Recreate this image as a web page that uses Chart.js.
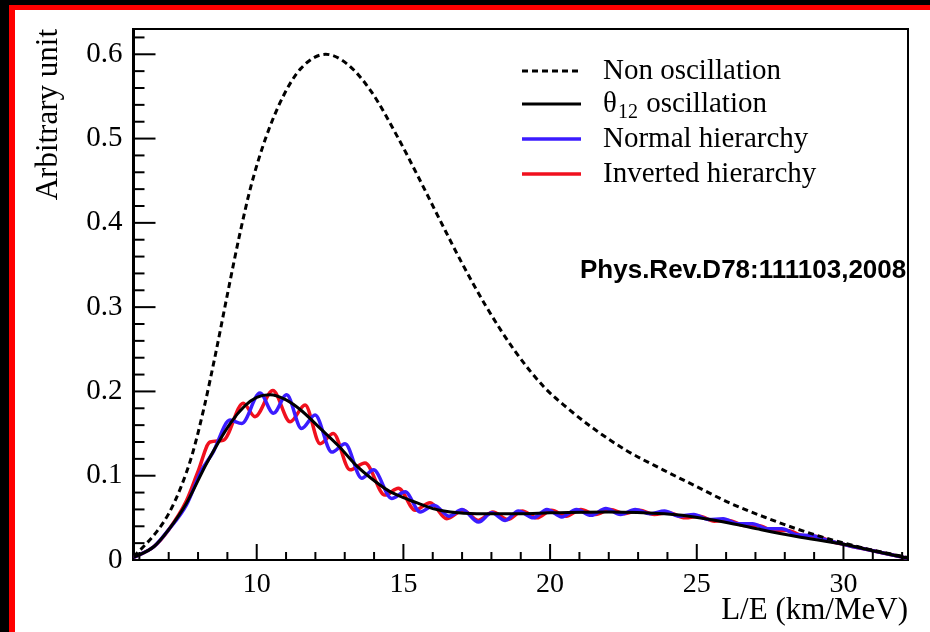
<!DOCTYPE html>
<html><head><meta charset="utf-8">
<script src="https://cdn.jsdelivr.net/npm/chart.js@4.4.1/dist/chart.umd.min.js"></script>
<style>
html,body{margin:0;padding:0;background:#000;width:930px;height:632px;overflow:hidden}
#frame{position:absolute;left:9px;top:5px;right:0;bottom:0;box-sizing:border-box;background:#fff;border:0 solid #ff0000;border-left-width:6px;border-top-width:5px}
#c{position:absolute;left:0;top:0}
</style></head><body>
<div id="frame"></div>
<canvas id="c" width="930" height="632"></canvas>
<script>
// ---- data ----
const xRange = [5.8, 32.2];
const yRange = [0, 0.63];
const xTickLabels = [10, 15, 20, 25, 30];

const nonOscX = [5.8, 6.2, 6.6, 7.0, 7.4, 7.8, 8.2, 8.6, 9.0, 9.4, 9.8, 10.3, 10.9, 11.5, 12.35, 13.1, 13.9, 14.8, 15.5, 16.25, 17.0, 17.8, 18.8, 19.8, 20.6, 21.4, 22.6, 23.85, 25.0, 26.1, 27.3, 28.4, 29.5, 30.7, 31.5, 32.2];
const nonOscY = [0.004, 0.018, 0.034, 0.055, 0.085, 0.125, 0.18, 0.245, 0.315, 0.383, 0.443, 0.5, 0.55, 0.583, 0.6, 0.588, 0.556, 0.502, 0.455, 0.403, 0.352, 0.302, 0.248, 0.205, 0.18, 0.158, 0.13, 0.107, 0.087, 0.068, 0.051, 0.037, 0.025, 0.014, 0.008, 0.003];

const th12X = [5.8, 6.5, 7.0, 7.6, 8.3, 9.1, 9.6, 10.0, 10.45, 11.0, 11.5, 12.2, 12.8, 13.4, 13.9, 14.5, 15.0, 15.6, 16.0, 16.6, 17.5, 19.0, 20.0, 22.0, 23.9, 24.5, 26.1, 27.2, 28.4, 30.1, 31.0, 32.2];
const th12Y = [0.003, 0.016, 0.036, 0.067, 0.115, 0.162, 0.183, 0.193, 0.196, 0.19, 0.178, 0.155, 0.135, 0.112, 0.097, 0.082, 0.074, 0.066, 0.061, 0.057, 0.055, 0.055, 0.056, 0.057, 0.055, 0.053, 0.044, 0.036, 0.028, 0.018, 0.011, 0.002];

const normalX = [5.8, 6.5, 7.0, 7.6, 8.1, 8.5, 9.09, 9.49, 10.11, 10.57, 11.02, 11.53, 11.99, 12.56, 13.01, 13.58, 13.98, 14.6, 15.06, 15.57, 16.05, 16.55, 17.0, 17.56, 18.01, 18.47, 18.92, 19.43, 19.89, 20.4, 20.9, 21.4, 21.9, 22.4, 22.9, 23.4, 23.9, 24.4, 24.9, 25.4, 25.9, 26.4, 26.9, 27.4, 27.9, 28.4, 28.9, 29.5, 30.2, 31.0, 32.2];
const normalY = [0.003, 0.016, 0.036, 0.065, 0.105, 0.127, 0.166, 0.162, 0.198, 0.174, 0.196, 0.156, 0.172, 0.128, 0.138, 0.097, 0.107, 0.073, 0.081, 0.057, 0.065, 0.052, 0.060, 0.045, 0.056, 0.047, 0.058, 0.050, 0.060, 0.051, 0.060, 0.053, 0.061, 0.054, 0.060, 0.055, 0.058, 0.052, 0.054, 0.048, 0.049, 0.043, 0.043, 0.037, 0.037, 0.030, 0.029, 0.023, 0.017, 0.011, 0.002];

const invertedX = [5.8, 6.5, 7.0, 7.6, 8.0, 8.41, 8.86, 9.54, 9.94, 10.55, 11.14, 11.65, 12.16, 12.61, 13.18, 13.69, 14.37, 14.83, 15.4, 15.91, 16.48, 17.04, 17.55, 18.05, 18.55, 19.05, 19.55, 20.05, 20.55, 21.05, 21.55, 22.05, 22.55, 23.05, 23.55, 24.05, 24.6, 25.1, 25.6, 26.1, 26.6, 27.1, 27.6, 28.1, 28.6, 29.1, 29.6, 30.2, 31.0, 32.2];
const invertedY = [0.003, 0.016, 0.036, 0.07, 0.105, 0.140, 0.142, 0.186, 0.170, 0.201, 0.164, 0.184, 0.138, 0.150, 0.107, 0.115, 0.077, 0.085, 0.059, 0.068, 0.049, 0.059, 0.047, 0.057, 0.048, 0.058, 0.050, 0.059, 0.052, 0.060, 0.054, 0.060, 0.055, 0.059, 0.054, 0.056, 0.050, 0.052, 0.046, 0.047, 0.041, 0.041, 0.035, 0.035, 0.029, 0.028, 0.022, 0.017, 0.011, 0.002];

const seriesNames = ['Non oscillation', 'θ_{12} oscillation', 'Normal hierarchy', 'Inverted hierarchy'];
const citation = 'Phys.Rev.D78:111103,2008';
const xTitle = 'L/E (km/MeV)';
const yTitle = 'Arbitrary unit';

const pts = (xs, ys) => xs.map((x, i) => ({x, y: ys[i]}));
const serif = 'Liberation Serif';

// draw a label that may contain _{...} subscripts
function drawRich(ctx, text, x, y, size) {
  const parts = text.split(/(_\{[^}]*\})/);
  let cx = x;
  parts.forEach(p => {
    if (!p) return;
    if (p.startsWith('_{')) {
      const s = p.slice(2, -1);
      ctx.font = Math.round(size * 0.7) + 'px "' + serif + '"';
      ctx.fillText(s, cx + 1, y + size * 0.3);
      cx += ctx.measureText(s).width + 2;
    } else {
      ctx.font = size + 'px "' + serif + '"';
      ctx.fillText(p, cx, y);
      cx += ctx.measureText(p).width;
    }
  });
}

const rootStyle = {
  id: 'rootStyle',
  afterDatasetsDraw(chart) {
    const {ctx, chartArea: a, scales: {x, y}} = chart;
    ctx.save();
    ctx.strokeStyle = '#000';
    ctx.lineWidth = 2;
    ctx.beginPath();
    ctx.moveTo(a.left, a.top); ctx.lineTo(a.right, a.top); ctx.lineTo(a.right, a.bottom);
    ctx.stroke();
    // x ticks (inward)
    x.ticks.forEach(t => {
      const px = x.getPixelForValue(t.value);
      const len = (Math.round(t.value) % 5 === 0) ? 16 : 8;
      ctx.beginPath(); ctx.moveTo(px, a.bottom); ctx.lineTo(px, a.bottom - len); ctx.stroke();
    });
    // y ticks (inward), minor every 0.02
    const n = Math.floor(y.max / 0.02 + 1e-6);
    for (let i = 0; i <= n; i++) {
      const py = y.getPixelForValue(i * 0.02);
      const len = (i % 5 === 0) ? 22 : 11;
      ctx.beginPath(); ctx.moveTo(a.left, py); ctx.lineTo(a.left + len, py); ctx.stroke();
    }
    // legend
    const rowY = [71, 104, 139, 174];
    chart.data.datasets.forEach((ds, i) => {
      const yy = rowY[i];
      ctx.strokeStyle = ds.borderColor;
      ctx.lineWidth = ds.borderWidth;
      ctx.setLineDash(ds.borderDash || []);
      ctx.beginPath(); ctx.moveTo(522, yy); ctx.lineTo(581, yy); ctx.stroke();
      ctx.setLineDash([]);
      ctx.fillStyle = '#000';
      ctx.textBaseline = 'middle';
      ctx.textAlign = 'left';
      drawRich(ctx, ds.label, 603, yy, 29);
    });
    // citation
    ctx.fillStyle = '#000';
    ctx.font = 'bold 26px "Liberation Sans"';
    ctx.textBaseline = 'alphabetic';
    ctx.fillText(citation, 580, 278);
    ctx.restore();
  }
};

new Chart(document.getElementById('c'), {
  type: 'line',
  data: {
    datasets: [
      {label: seriesNames[0], data: pts(nonOscX, nonOscY), borderColor: '#000000', borderWidth: 3, borderDash: [6, 4]},
      {label: seriesNames[1], data: pts(th12X, th12Y), borderColor: '#000000', borderWidth: 3},
      {label: seriesNames[2], data: pts(normalX, normalY), borderColor: '#3b1cff', borderWidth: 3.5},
      {label: seriesNames[3], data: pts(invertedX, invertedY), borderColor: '#f0101e', borderWidth: 3.5}
    ]
  },
  options: {
    responsive: false,
    animation: false,
    devicePixelRatio: 1,
    elements: {point: {radius: 0}, line: {cubicInterpolationMode: 'monotone', fill: false}},
    layout: {padding: {left: 0, top: 29, right: 22, bottom: 0}},
    plugins: {legend: {display: false}, tooltip: {enabled: false}},
    scales: {
      x: {
        type: 'linear', min: xRange[0], max: xRange[1],
        grid: {display: false, drawTicks: false},
        border: {display: true, color: '#000', width: 2},
        ticks: {
          stepSize: 1, autoSkip: false, includeBounds: false, maxRotation: 0, padding: 8,
          color: '#000', font: {family: serif, size: 28},
          callback: v => xTickLabels.includes(Math.round(v)) && Math.abs(v - Math.round(v)) < 1e-6 ? String(Math.round(v)) : ''
        },
        title: {display: true, text: xTitle, align: 'end', color: '#000', font: {family: serif, size: 31}, padding: {top: 0, bottom: 3}},
        afterFit: s => { s.height = 72; }
      },
      y: {
        min: yRange[0], max: yRange[1],
        grid: {display: false, drawTicks: false},
        border: {display: true, color: '#000', width: 3},
        ticks: {
          stepSize: 0.1, includeBounds: false, padding: 11, color: '#000',
          font: {family: serif, size: 29},
          callback: v => v === 0 ? '0' : v.toFixed(1)
        },
        title: {display: true, text: yTitle, align: 'end', color: '#000', font: {family: serif, size: 31}, padding: {top: 30, bottom: 0}},
        afterFit: s => { s.width = 133.5; }
      }
    }
  },
  plugins: [rootStyle]
});
</script>
</body></html>
